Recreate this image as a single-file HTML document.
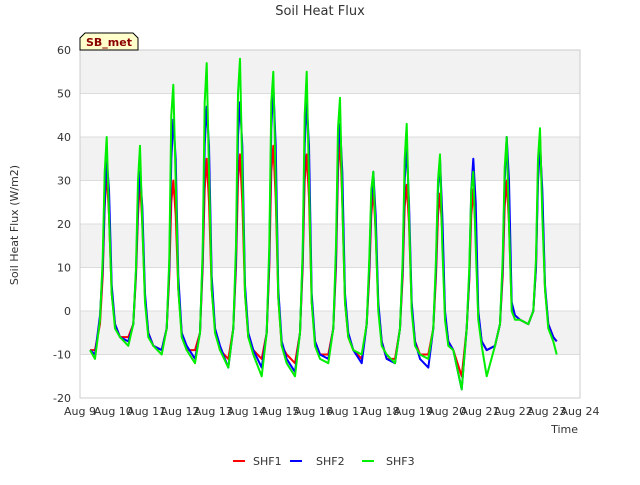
<!DOCTYPE html>
<html><head><meta charset="utf-8"><style>
body{margin:0;background:#fff;font-family:"Liberation Sans",sans-serif}
svg text{font-family:"DejaVu Sans","Liberation Sans",sans-serif}
</style></head><body>
<svg id="chart" width="640" height="480" xmlns="http://www.w3.org/2000/svg">
<text x="320" y="15" text-anchor="middle" font-size="13" fill="#333">Soil Heat Flux</text>
<g id="plot"></g>
<text transform="translate(18,225) rotate(-90)" text-anchor="middle" font-size="11" fill="#333">Soil Heat Flux (W/m2)</text>
<text x="578" y="433" text-anchor="end" font-size="11" fill="#333">Time</text>
<g>
<path d="M80,50 L80,38 L85,33 L133,33 L138,38 L138,50 Z" fill="#ffffcc" stroke="#000" stroke-width="1"/>
<text x="109" y="46" text-anchor="middle" font-size="11" font-weight="bold" fill="#8b0000">SB_met</text>
</g>
<g>
<g><line x1="233" y1="461" x2="245" y2="461" stroke="#ff0000" stroke-width="2"/><text x="253" y="465" font-size="11" fill="#333">SHF1</text></g>
<g><line x1="290" y1="461" x2="302" y2="461" stroke="#0000ff" stroke-width="2"/><text x="316" y="465" font-size="11" fill="#333">SHF2</text></g>
<g><line x1="362" y1="461" x2="374" y2="461" stroke="#00ee00" stroke-width="2"/><text x="386" y="465" font-size="11" fill="#333">SHF3</text></g>
</g>
</svg>
<script>
const yTicks=[-20,-10,0,10,20,30,40,50,60];
const xTickLabels=["Aug 9","Aug 10","Aug 11","Aug 12","Aug 13","Aug 14","Aug 15","Aug 16","Aug 17","Aug 18","Aug 19","Aug 20","Aug 21","Aug 22","Aug 23","Aug 24"];
const days=[9,10,11,12,13,14,15,16,17,18,19,20,21,22];
const dayOffsets=[0.45,0.6,0.68,0.74,0.8,0.87,0.95,1.05,1.2];
const startTime=9.3, endTime=23.3;
const shf1=[-9,
-9,-3,8,24,32,22,4,-3,-6,
-6,-3,8,22,30,20,3,-5,-8,
-9,-4,8,25,30,22,5,-5,-9,
-9,-5,10,28,35,25,5,-4,-9,
-11,-4,10,30,36,25,4,-6,-9,
-11,-5,10,32,38,26,3,-8,-10,
-12,-5,10,30,36,26,2,-7,-10,
-10,-4,10,32,40,25,2,-6,-9,
-11,-3,8,22,28,18,1,-7,-11,
-11,-4,8,24,29,20,1,-7,-10,
-10,-4,8,22,27,18,-1,-7,-9,
-15,-4,7,22,28,18,-1,-7,-9,
-8,-3,8,24,30,20,1,-1,-2,
-3,0,10,32,40,25,5,-3,-6,
-7];
const shf2=[-9,
-10,-1,10,25,35,28,6,-3,-6,
-7,-3,9,25,32,24,4,-5,-8,
-9,-4,10,35,44,35,8,-5,-8,
-11,-5,12,38,47,38,8,-4,-8,
-13,-4,12,40,48,38,6,-5,-9,
-13,-5,12,42,52,38,5,-7,-11,
-14,-5,12,38,48,38,4,-7,-10,
-11,-4,12,36,43,32,4,-5,-9,
-12,-3,10,25,32,22,2,-7,-11,
-12,-4,10,30,38,25,2,-7,-11,
-13,-4,10,28,35,22,0,-7,-9,
-18,-4,8,28,35,25,0,-7,-9,
-8,-3,10,30,40,30,2,-1,-2,
-3,0,10,30,38,28,6,-3,-6,
-7];
const shf3=[-9,
-11,-2,12,32,40,22,4,-4,-6,
-8,-3,10,30,38,20,2,-6,-8,
-10,-4,12,45,52,30,5,-6,-9,
-12,-5,14,48,57,32,5,-5,-9,
-13,-4,15,50,58,32,4,-6,-10,
-15,-5,15,48,55,30,3,-8,-12,
-15,-5,14,45,55,30,2,-8,-11,
-12,-4,15,42,49,25,2,-6,-9,
-10,-3,12,28,32,18,0,-8,-10,
-12,-4,12,35,43,22,0,-8,-10,
-11,-4,12,30,36,15,-2,-8,-9,
-18,-4,10,28,32,15,-2,-8,-15,
-8,-3,12,33,40,20,0,-2,-2,
-3,0,12,35,42,22,5,-4,-7,
-10];
const times=[startTime];
days.forEach(d=>dayOffsets.forEach(o=>times.push(d+o)));
times.push(endTime);

const X0=80,X1=580,Y0=398,Y1=50,TMIN=9,TMAX=24,VMIN=-20,VMAX=60;
const xs=t=>X0+(t-TMIN)/(TMAX-TMIN)*(X1-X0);
const ys=v=>Y0-(v-VMIN)/(VMAX-VMIN)*(Y0-Y1);
const NS="http://www.w3.org/2000/svg";
const plot=document.getElementById('plot');
function mk(tag,attrs,parent){const e=document.createElementNS(NS,tag);for(const k in attrs)e.setAttribute(k,attrs[k]);(parent||plot).appendChild(e);return e;}
for(let i=0;i<yTicks.length-1;i++){
  if((yTicks.length-2-i)%2===0){
    const r=mk('rect',{x:X0,y:ys(yTicks[i+1]),width:X1-X0,height:ys(yTicks[i])-ys(yTicks[i+1]),fill:'#f2f2f2'});
    
    
  }
}
yTicks.forEach(v=>{
  const l=mk('line',{x1:X0,x2:X1,y1:ys(v),y2:ys(v),stroke:'#dcdcdc','stroke-width':1});
  
  
  const t=mk('text',{x:X0-9,y:ys(v)+4,'text-anchor':'end','font-size':11,fill:'#333'});
  
  
  t.textContent=v;
});
const fr=mk('rect',{x:X0,y:Y1,width:X1-X0,height:Y0-Y1,fill:'none',stroke:'#ccc'});


xTickLabels.forEach((lab,i)=>{
  const t=mk('text',{x:xs(TMIN+i),y:Y0+17,'text-anchor':'middle','font-size':11,fill:'#333'});
  
  
  t.textContent=lab;
});
[[shf1,'#ff0000','series-shf1'],[shf2,'#0000ff','series-shf2'],[shf3,'#00ee00','series-shf3']].forEach(([s,c,n])=>{
  const pts=s.map((v,i)=>xs(times[i]).toFixed(1)+','+ys(v).toFixed(1)).join(' ');
  const p=mk('polyline',{points:pts,fill:'none',stroke:c,'stroke-width':2,'stroke-linejoin':'round'});
  
  
});
</script>
</body></html>
